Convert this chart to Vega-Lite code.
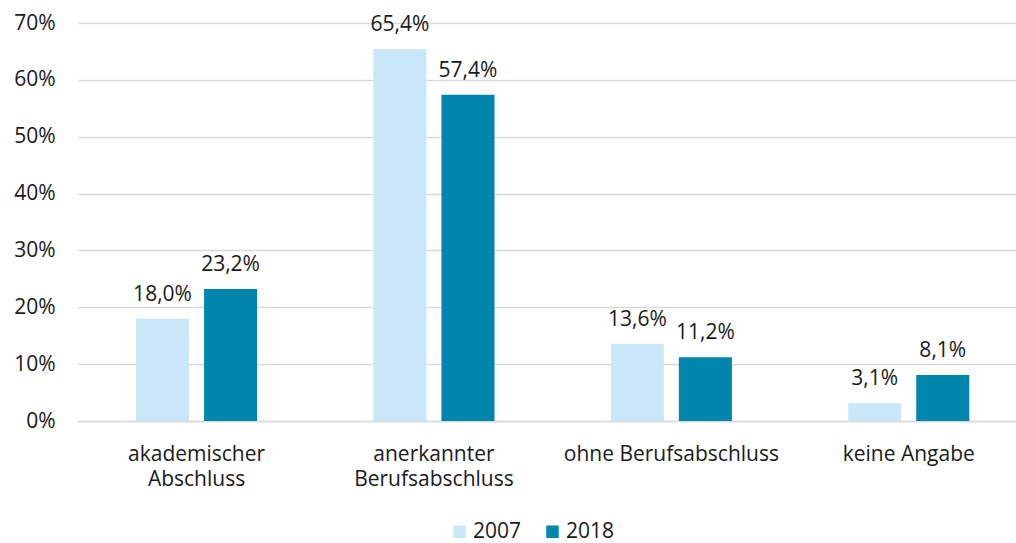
{
  "$schema": "https://vega.github.io/schema/vega-lite/v6.json",
  "width": 938,
  "height": 398,
  "autosize": "none",
  "padding": {"left": 78, "top": 23, "right": 0, "bottom": 122},
  "background": "white",
  "config": {
    "font": "Open Sans",
    "view": {"stroke": null},
    "axis": {"labelFont": "Open Sans", "labelFontSize": 21, "labelColor": "#1a1a1a"},
    "legend": {"labelFont": "Open Sans", "labelFontSize": 21, "labelColor": "#1a1a1a"}
  },
  "data": {
    "values": [
      {"kategorie": "akademischer Abschluss", "jahr": "2007", "wert": 18.0},
      {"kategorie": "akademischer Abschluss", "jahr": "2018", "wert": 23.2},
      {"kategorie": "anerkannter Berufsabschluss", "jahr": "2007", "wert": 65.4},
      {"kategorie": "anerkannter Berufsabschluss", "jahr": "2018", "wert": 57.4},
      {"kategorie": "ohne Berufsabschluss", "jahr": "2007", "wert": 13.6},
      {"kategorie": "ohne Berufsabschluss", "jahr": "2018", "wert": 11.2},
      {"kategorie": "keine Angabe", "jahr": "2007", "wert": 3.1},
      {"kategorie": "keine Angabe", "jahr": "2018", "wert": 8.1}
    ]
  },
  "transform": [
    {"calculate": "replace(format(datum.wert, '.1f'), '.', ',') + '%'", "as": "label"}
  ],
  "encoding": {
    "x": {
      "field": "kategorie",
      "type": "nominal",
      "sort": null,
      "scale": {"paddingInner": 0.49, "paddingOuter": 0.2205, "align": 0.554},
      "axis": {
        "title": null,
        "labelAngle": 0,
        "ticks": false,
        "domain": true,
        "domainColor": "#d9d9d9",
        "domainWidth": 1.5,
        "labelPadding": 22,
        "labelLineHeight": 25,
        "labelLimit": 0,
        "labelExpr": "datum.value == 'akademischer Abschluss' ? ['akademischer', 'Abschluss'] : datum.value == 'anerkannter Berufsabschluss' ? ['anerkannter', 'Berufsabschluss'] : datum.value"
      }
    },
    "xOffset": {"field": "jahr", "type": "nominal", "scale": {"paddingInner": 0.22, "paddingOuter": 0}},
    "y": {
      "field": "wert",
      "type": "quantitative",
      "scale": {"domain": [0, 70]},
      "axis": {
        "title": null,
        "values": [0, 10, 20, 30, 40, 50, 60, 70],
        "labelExpr": "datum.value + '%'",
        "ticks": false,
        "domain": false,
        "gridColor": "#d9d9d9",
        "gridWidth": 1.5,
        "labelPadding": 23
      }
    }
  },
  "layer": [
    {
      "mark": {"type": "bar"},
      "encoding": {
        "color": {
          "field": "jahr",
          "type": "nominal",
          "scale": {"domain": ["2007", "2018"], "range": ["#c9e7f8", "#0086ad"]},
          "legend": {
            "title": null,
            "orient": "none",
            "direction": "horizontal",
            "legendX": 371,
            "legendY": 498,
            "padding": 0,
            "symbolType": "square",
            "symbolSize": 156,
            "symbolStrokeWidth": 0,
            "columnPadding": 20,
            "labelOffset": 3
          }
        }
      }
    },
    {
      "mark": {"type": "text", "baseline": "alphabetic", "dy": -18, "fontSize": 21, "font": "Open Sans", "color": "#1a1a1a"},
      "encoding": {"text": {"field": "label"}}
    }
  ]
}
